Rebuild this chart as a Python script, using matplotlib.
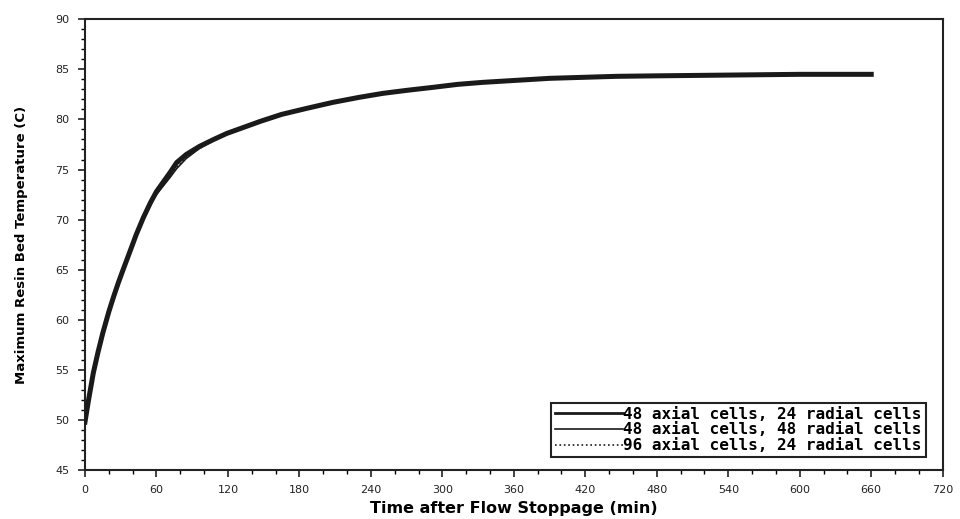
import matplotlib
matplotlib.use('Agg')
import matplotlib.pyplot as plt
from matplotlib.ticker import MultipleLocator

plt.rcParams['font.family'] = ['DejaVu Sans']

# time after flow stoppage (min)
time_min = [0, 3, 7, 11, 15, 20, 24, 28, 32, 38, 43, 49, 55, 60, 66, 72, 77, 85,
            96, 108, 119, 133, 147, 165, 186, 208, 230, 250, 270, 292, 313, 334,
            362, 390, 418, 446, 480, 520, 560, 600, 630, 660]

# 48 axial cells, 24 radial cells
temp_48x24 = [49.8, 52.0, 54.7, 56.8, 58.7, 60.8, 62.3, 63.7, 65.0, 66.9, 68.5,
              70.2, 71.7, 72.8, 73.8, 74.8, 75.7, 76.5, 77.3, 78.0, 78.6, 79.2,
              79.8, 80.5, 81.1, 81.7, 82.2, 82.6, 82.9, 83.2, 83.5, 83.7, 83.9,
              84.1, 84.2, 84.3, 84.35, 84.4, 84.45, 84.5, 84.5, 84.5]

# 48 axial cells, 48 radial cells
temp_48x48 = [49.8, 52.0, 54.7, 56.8, 58.7, 60.8, 62.3, 63.7, 65.0, 66.9, 68.5,
              70.2, 71.6, 72.5, 73.4, 74.3, 75.1, 76.1, 77.1, 77.9, 78.6, 79.2,
              79.8, 80.5, 81.1, 81.7, 82.2, 82.6, 82.9, 83.2, 83.5, 83.7, 83.9,
              84.1, 84.2, 84.3, 84.35, 84.4, 84.45, 84.5, 84.5, 84.5]

# 96 axial cells, 24 radial cells
temp_96x24 = [49.8, 52.0, 54.7, 56.8, 58.7, 60.8, 62.3, 63.7, 65.0, 66.9, 68.5,
              70.2, 71.6, 72.6, 73.5, 74.4, 75.2, 76.2, 77.1, 77.9, 78.6, 79.2,
              79.8, 80.5, 81.1, 81.7, 82.2, 82.6, 82.9, 83.2, 83.5, 83.7, 83.9,
              84.1, 84.2, 84.3, 84.35, 84.4, 84.45, 84.5, 84.5, 84.5]

labels = ['48 axial cells, 24 radial cells',
          '48 axial cells, 48 radial cells',
          '96 axial cells, 24 radial cells']

x_ticks = list(range(0, 721, 60))
y_ticks = list(range(45, 91, 5))

fig = plt.figure(figsize=(9.6, 5.19), dpi=100)
ax = fig.add_axes([0.0885, 0.094, 0.8935, 0.869])

# thin / dotted runs underneath, coarse-grid run drawn heavy on top
l3, = ax.plot(time_min, temp_96x24, color='#1a1a1a', lw=1.2, ls=':', label=labels[2], zorder=2)
l2, = ax.plot(time_min, temp_48x48, color='#1a1a1a', lw=1.2, label=labels[1], zorder=2)
l1, = ax.plot(time_min, temp_48x24, color='#1a1a1a', lw=3.6, label=labels[0], zorder=3)

ax.set_xlim(0, 720)
ax.set_ylim(45, 90)
ax.set_xticks(x_ticks)
ax.set_yticks(y_ticks)
ax.xaxis.set_minor_locator(MultipleLocator(20))
ax.yaxis.set_minor_locator(MultipleLocator(1))
ax.tick_params(which='major', direction='out', length=5, width=1.2,
               labelsize=8, colors='#222222', pad=6)
ax.tick_params(which='minor', direction='out', length=3, width=1.0)
for s in ax.spines.values():
    s.set_linewidth(1.5)
    s.set_color('#222222')

ax.set_xlabel('Time after Flow Stoppage (min)', fontsize=11.5, fontweight='bold', labelpad=4)
ax.set_ylabel('Maximum Resin Bed Temperature (C)', fontsize=9.5, fontweight='bold', labelpad=20)

# legend handles are thinner than the plotted heavy line
h1 = plt.Line2D([], [], color='#1a1a1a', lw=2.0)
leg = ax.legend([h1, l2, l3], labels, loc='lower right',
                bbox_to_anchor=(0.98, 0.029), borderaxespad=0,
                fancybox=False, edgecolor='#222222', framealpha=1,
                handlelength=4.3, handletextpad=0.0, borderpad=0.25,
                labelspacing=0.05,
                prop={'family': 'DejaVu Sans Mono', 'weight': 'bold', 'size': 11.5})
leg.get_frame().set_linewidth(1.5)

plt.savefig('out.png', dpi=100)
